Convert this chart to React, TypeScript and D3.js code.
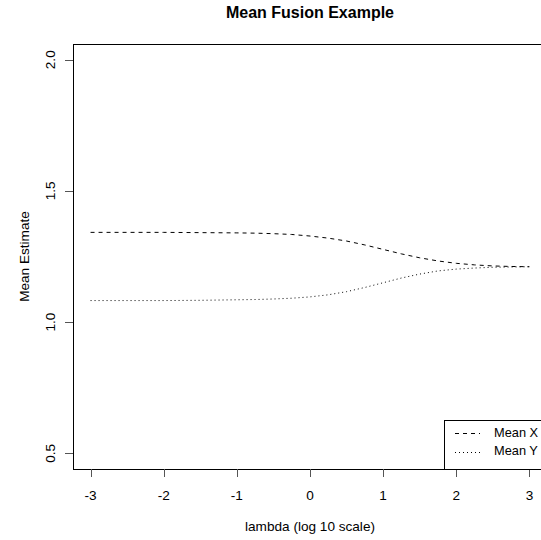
import React from "react";
import * as d3 from "d3";

const lambdaValues = [-3, -2.5, -2, -1.5, -1, -0.75, -0.5, -0.25, 0, 0.25, 0.5, 0.75, 1, 1.25, 1.5, 1.75, 2, 2.25, 2.5, 2.75, 3];
const meanX = [1.342, 1.342, 1.342, 1.341, 1.340, 1.339, 1.337, 1.334, 1.328, 1.320, 1.309, 1.294, 1.277, 1.260, 1.245, 1.233, 1.224, 1.218, 1.214, 1.212, 1.211];
const meanY = [1.082, 1.082, 1.082, 1.083, 1.085, 1.086, 1.088, 1.091, 1.096, 1.104, 1.116, 1.132, 1.150, 1.168, 1.183, 1.195, 1.202, 1.206, 1.209, 1.210, 1.211];
const xTicks = [-3, -2, -1, 0, 1, 2, 3];
const yTicks = [0.5, 1.0, 1.5, 2.0];
const legendLabels = ["Mean X", "Mean Y"];

const W = 541;
const H = 540;
const left = 73, right = 547, top = 44, bottom = 469;
const font = "Liberation Sans, Arial, Helvetica, sans-serif";
const fs = 13.6;

export default function App() {
  const xr = [-3.24, 3.24];
  const yr = [0.44, 2.06];
  const x = d3.scaleLinear().domain(xr).range([left, right]);
  const y = d3.scaleLinear().domain(yr).range([bottom, top]);
  const line = d3.line<number>().x((_, i) => x(lambdaValues[i])).y((d) => y(d));

  return (
    <svg width={W} height={H} style={{ position: "absolute", left: 0, top: 0, background: "#fff" }}>
      <rect x={0} y={0} width={W} height={H} fill="#fff" />
      <text x={(left + right) / 2} y={18} textAnchor="middle" fontFamily={font} fontSize={16} fontWeight="bold">Mean Fusion Example</text>
      <path d={line(meanX) || ""} fill="none" stroke="#000" strokeWidth={1} strokeDasharray="4 4" />
      <path d={line(meanY) || ""} fill="none" stroke="#000" strokeWidth={1} strokeDasharray="1 3" />
      <rect x={left + 0.5} y={top + 0.5} width={right - left} height={bottom - top} fill="none" stroke="#000" strokeWidth={1} />
      {xTicks.map((t) => (
        <g key={"x" + t}>
          <line x1={Math.round(x(t)) + 0.5} x2={Math.round(x(t)) + 0.5} y1={bottom} y2={bottom + 8} stroke="#555" />
          <text x={x(t)} y={500} textAnchor="middle" fontFamily={font} fontSize={fs}>{t}</text>
        </g>
      ))}
      {yTicks.map((t) => (
        <g key={"y" + t}>
          <line x1={left - 8} x2={left} y1={Math.round(y(t)) + 0.5} y2={Math.round(y(t)) + 0.5} stroke="#555" />
          <text transform={`translate(55,${y(t)}) rotate(-90)`} textAnchor="middle" fontFamily={font} fontSize={fs}>{t.toFixed(1)}</text>
        </g>
      ))}
      <text x={(left + right) / 2} y={531} textAnchor="middle" fontFamily={font} fontSize={fs}>lambda (log 10 scale)</text>
      <text transform={`translate(29,${(top + bottom) / 2}) rotate(-90)`} textAnchor="middle" fontFamily={font} fontSize={fs}>Mean Estimate</text>
      <rect x={444.5} y={420.5} width={120} height={bottom - 420} fill="#fff" stroke="#000" strokeWidth={1} />
      {legendLabels.map((lab, i) => (
        <g key={lab}>
          <line x1={455} x2={480} y1={433.5 + i * 19} y2={433.5 + i * 19} stroke="#000" strokeDasharray={i === 0 ? "4 4" : "1 3"} />
          <text x={494} y={437 + i * 18} fontFamily={font} fontSize={12.8}>{lab}</text>
        </g>
      ))}
    </svg>
  );
}
